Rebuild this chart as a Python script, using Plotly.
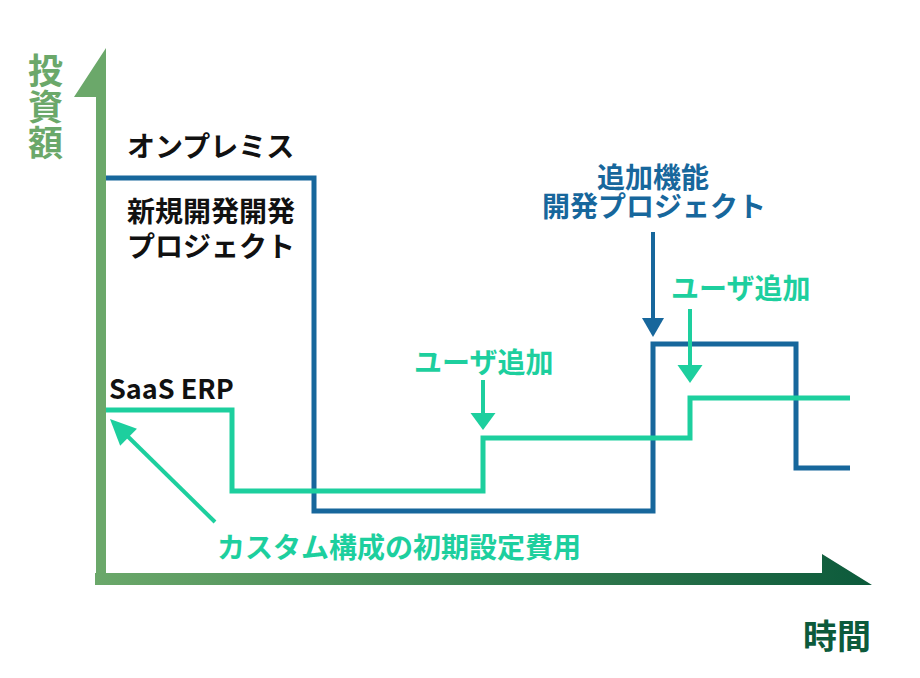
import math
import plotly.graph_objects as go

# ---------------- data (time units / investment units) ----------------
onprem_time = [0, 208, 547, 690, 744]
onprem_invest = [407, 74, 241, 117, 117]

saas_time = [0, 126, 377, 584, 744]
saas_invest = [175, 94, 147, 187, 187]

events_labels = ["追加機能", "ユーザ追加", "ユーザ追加"]

# ---------------- styles ----------------
BLUE = "#17679c"
GREEN = "#1dcf9e"
AXIS_LIGHT = "#6ba86a"
AXIS_DARK = "#0c5a3b"
FONT = "Noto Sans CJK JP"

fig = go.Figure()

# axis arrows (decorative), in plot units where 1 unit = 1 px
y_axis_poly_x = [-10, -10, -32, 0, 0, -10]
y_axis_poly_y = [0, 488, 488, 537, 0, 0]
fig.add_trace(go.Scatter(x=y_axis_poly_x, y=y_axis_poly_y, mode="lines", fill="toself",
                         fillcolor=AXIS_LIGHT, line=dict(width=0), hoverinfo="skip", showlegend=False))
x_axis_poly_x = [-11, -11, 716, 716, 766, -11]
x_axis_poly_y = [0, 12, 12, 31, 0, 0]
fig.add_trace(go.Scatter(x=x_axis_poly_x, y=x_axis_poly_y, mode="lines", fill="toself",
                         fillgradient=dict(type="horizontal",
                                           colorscale=[[0, AXIS_LIGHT], [1, AXIS_DARK]]),
                         line=dict(width=0), hoverinfo="skip", showlegend=False))

# series lines
fig.add_trace(go.Scatter(x=onprem_time, y=onprem_invest, mode="lines", line_shape="hv",
                         line=dict(color=BLUE, width=5), showlegend=False, hoverinfo="skip"))
fig.add_trace(go.Scatter(x=saas_time, y=saas_invest, mode="lines", line_shape="hv",
                         line=dict(color=GREEN, width=5), showlegend=False, hoverinfo="skip"))


def arrow(x0, y0, x1, y1, color, head_len=19, head_w=24, width=4):
    dx, dy = x1 - x0, y1 - y0
    L = math.hypot(dx, dy)
    ux, uy = dx / L, dy / L
    bx, by = x1 - ux * head_len, y1 - uy * head_len
    fig.add_shape(type="line", x0=x0, y0=y0, x1=bx + ux * 1, y1=by + uy * 1,
                  xref="x", yref="y", line=dict(color=color, width=width))
    px, py = -uy, ux
    hw = head_w / 2
    path = (f"M {x1},{y1} L {bx + px * hw},{by + py * hw} "
            f"L {bx - px * hw},{by - py * hw} Z")
    fig.add_shape(type="path", path=path, xref="x", yref="y",
                  fillcolor=color, line=dict(width=0))


# blue arrow -> on-premise step up
arrow(onprem_time[2], 353, onprem_time[2], onprem_invest[2] + 7, BLUE, head_len=19, head_w=22)
# green arrows -> SaaS steps up
arrow(saas_time[2], 205, saas_time[2], saas_invest[2] + 8, GREEN, head_len=17, head_w=25)
arrow(saas_time[3], 276, saas_time[3], saas_invest[3] + 15, GREEN, head_len=18, head_w=25)
# diagonal arrow -> SaaS initial cost
arrow(109, 63, 4, 166, GREEN, head_len=26, head_w=24, width=4)


def label(text, x, y, color, size=28, xanchor="center"):
    fig.add_annotation(text=text, x=x, y=y, xref="x", yref="y", showarrow=False,
                       xanchor=xanchor, yanchor="middle",
                       font=dict(family=FONT, size=size, color=color, weight=700))


label("オンプレミス", 19, 440, "#111111", xanchor="left")
label("新規開発開発", 19, 375, "#111111", xanchor="left")
label("プロジェクト", 19, 340, "#111111", xanchor="left")
label("SaaS ERP", 1, 198, "#111111", size=27, xanchor="left")
label("追加機能", 547, 409, BLUE)
label("開発プロジェクト", 548, 380, BLUE)
label(events_labels[1], 377, 224, GREEN)
label(events_labels[2], 634, 298, GREEN)
label("カスタム構成の初期設定費用", 293, 39, GREEN)

for i, ch in enumerate(["投", "資", "額"]):
    label(ch, -61, 517 - 36 * i, AXIS_LIGHT, size=35)
label("時間", 731, -49, AXIS_DARK, size=34)

fig.update_layout(
    width=920, height=678, autosize=False,
    margin=dict(l=0, r=0, t=0, b=0, pad=0),
    paper_bgcolor="white", plot_bgcolor="white",
    xaxis=dict(range=[-106, 814], visible=False, fixedrange=True),
    yaxis=dict(range=[-93, 585], visible=False, fixedrange=True),
    showlegend=False,
)

fig.write_html("out.html", config={"displayModeBar": False},
               post_script="document.body.style.margin='0';document.body.style.overflow='hidden';")
